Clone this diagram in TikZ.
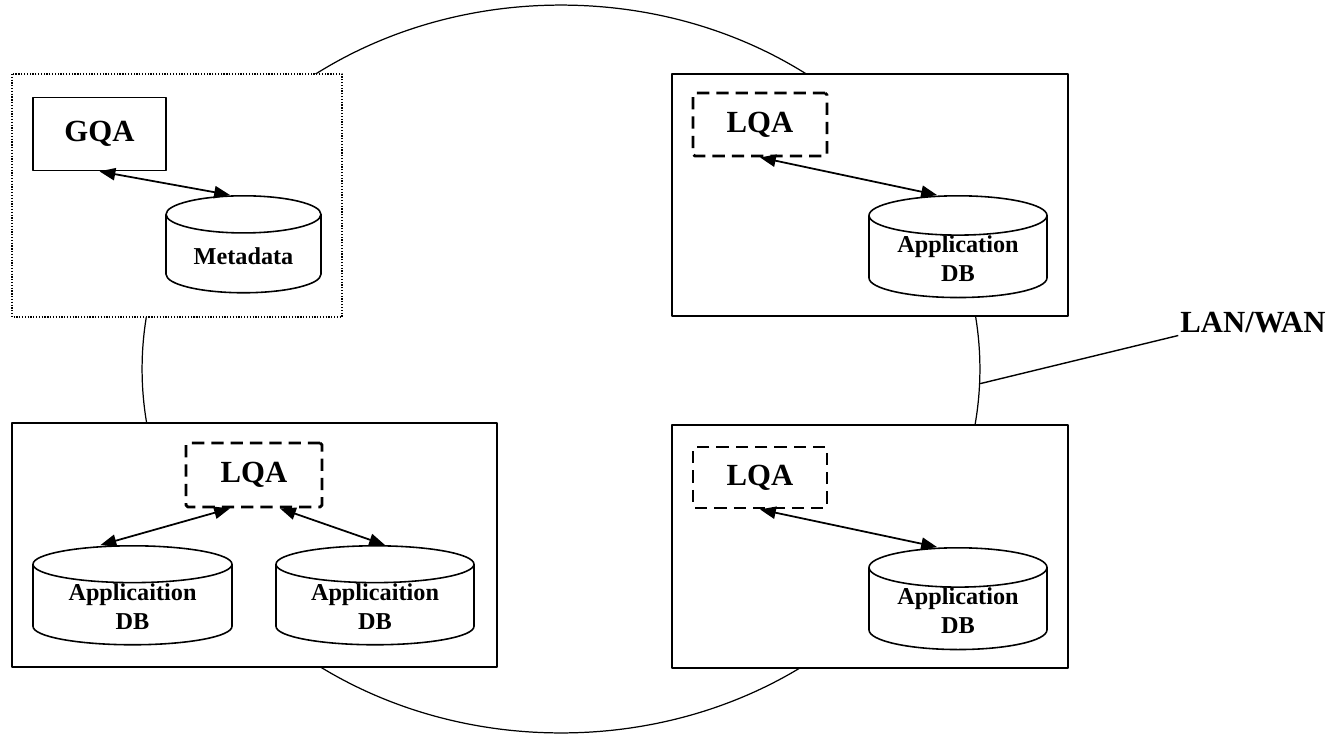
\documentclass[tikz,border=0pt]{standalone}
\usepackage{fontspec}
\setmainfont{Liberation Serif}
\usetikzlibrary{shapes.geometric,arrows.meta}

\begin{document}
\begin{tikzpicture}[line join=round,>={Triangle[length=9pt,width=7pt]},x=0.02cm,y=-0.02cm,
		site/.style={draw,fill=white,line width=1.1pt},
		qa/.style={draw,fill=white,line width=1.6pt,dash pattern=on 7pt off 4pt,rounded corners=1pt,font=\fontsize{17.5}{20}\selectfont\bfseries},
		db/.style={draw,fill=white,cylinder,shape border rotate=90,anchor=north,inner xsep=1pt,inner ysep=0pt,line width=0.9pt,align=center,font=\fontsize{13.8}{16.5}\selectfont\bfseries},
		link/.style={<->,line width=1pt}]
		\useasboundingbox (0,0) rectangle (1333,735);
		\node[draw,ellipse,line width=0.7pt,minimum width=16.76cm,minimum height=14.56cm] (net) at (561,369) {};
		
		\draw[site,line width=0.8pt,dash pattern=on 0.7pt off 0.9pt] (12,74) rectangle (342,317);
		\draw[site] (672,74) rectangle (1068,316);
		\draw[site] (12,423) rectangle (497,667);
		\draw[site] (672,425) rectangle (1068,668);
		
		\node[draw,line width=1pt,minimum width=2.66cm,minimum height=1.46cm,font=\fontsize{17.5}{20}\selectfont\bfseries] (gqa) at (99.5,134) {GQA};
		\node[db,minimum width=3.1cm,minimum height=1.94cm,aspect=0.36] (meta) at (243.5,195) {Metadata};
		
		\node[qa,minimum width=2.68cm,minimum height=1.26cm] (lqa1) at (760,124.5) {LQA};
		\node[db,minimum width=3.56cm,minimum height=1.88cm,aspect=0.315] (db1) at (958,195) {Application\\DB};
		
		\node[qa,minimum width=2.72cm,minimum height=1.28cm] (lqa2) at (254,475) {LQA};
		\node[db,minimum width=3.98cm,minimum height=1.98cm,aspect=0.28] (db2) at (132.5,545) {Applicaition\\DB};
		\node[db,minimum width=3.96cm,minimum height=1.98cm,aspect=0.28] (db3) at (375,545) {Applicaition\\DB};
		
		\node[qa,minimum width=2.68cm,minimum height=1.22cm] (lqa3) at (760,477.5) {LQA};
		\node[db,minimum width=3.56cm,minimum height=1.88cm,aspect=0.315] (db4) at (958,547) {Application\\DB};
		
		\draw[link] (gqa.south) -- ([xshift=-0.27cm]meta.north);
		\draw[link] (lqa1.south) -- ([xshift=-0.42cm]db1.north);
		\draw[link] ([xshift=-0.48cm]lqa2.south) -- ([xshift=-0.64cm]db2.north);
		\draw[link] ([xshift=0.52cm]lqa2.south) -- ([xshift=0.2cm]db3.north);
		\draw[link] (lqa3.south) -- ([xshift=-0.42cm]db4.north);
		
		\node[inner sep=1pt,font=\fontsize{17.5}{20}\selectfont\bfseries] (lan) at (1253,323) {LAN/WAN};
		\draw[line width=0.8pt] (net.-2) -- (lan.south west);
	\end{tikzpicture}
\end{document}
